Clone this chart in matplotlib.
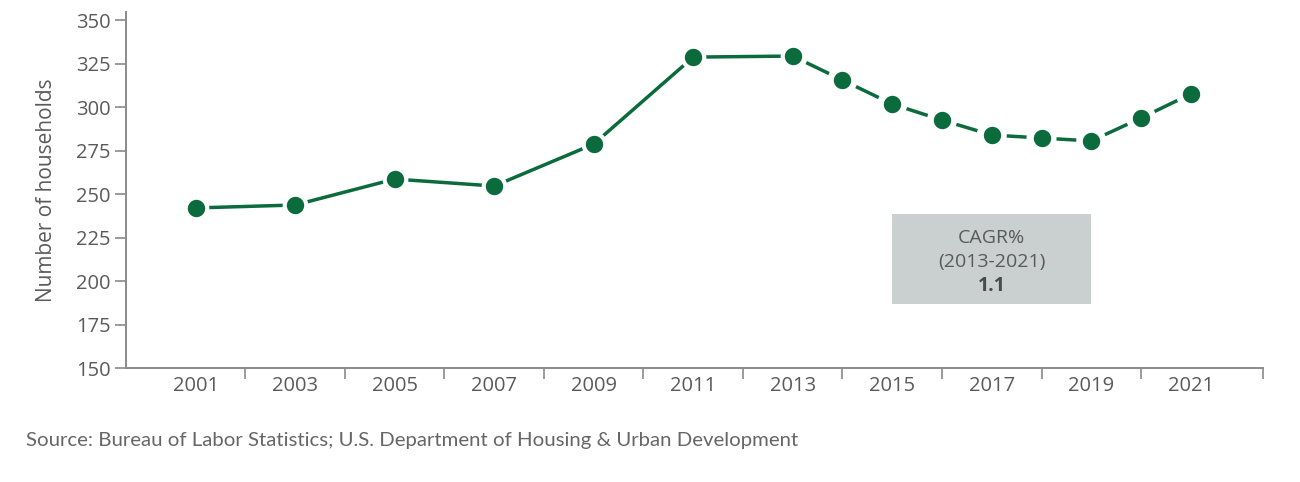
import numpy as np
import matplotlib.pyplot as plt

plt.rcParams['font.family'] = ['Open Sans', 'DejaVu Sans']

years = [2001, 2003, 2005, 2007, 2009, 2011, 2013, 2014, 2015, 2016, 2017, 2018, 2019, 2020, 2021]
households = [242, 243.7, 258.6, 254.6, 278.7, 328.7, 329.3, 315.5, 301.7, 292.5, 283.9, 282.2, 280.5, 293.7, 307.5]
label_years = [2001, 2003, 2005, 2007, 2009, 2011, 2013, 2015, 2017, 2019, 2021]
y_ticks = [150, 175, 200, 225, 250, 275, 300, 325, 350]
source = "Source: Bureau of Labor Statistics; U.S. Department of Housing & Urban Development"

green = "#0b6b3c"
grey = "#5a5a5a"
axis_grey = "#8a8a8a"

fig = plt.figure(figsize=(13, 4.82), dpi=100)
ax = fig.add_axes([0.0969, 0.2365, 0.8746, 0.7385])

x_left, x_right = 1999.6, 2022.45
ax.set_xlim(x_left, x_right)
ax.set_ylim(150, 354.6)

split = years.index(2013)
ax.plot(years[:split + 1], households[:split + 1], color=green, lw=2.5, solid_capstyle="butt", zorder=2)

# dashed part: one dash per segment, centred between the markers
to_px = ax.transData
to_data = ax.transData.inverted()
gap = 15  # px from marker centre to dash end
for i in range(split, len(years) - 1):
    p0 = to_px.transform((years[i], households[i]))
    p1 = to_px.transform((years[i + 1], households[i + 1]))
    v = p1 - p0
    u = v / np.hypot(*v)
    a = to_data.transform(p0 + u * gap)
    b = to_data.transform(p1 - u * gap)
    ax.plot([a[0], b[0]], [a[1], b[1]], color=green, lw=2.5, solid_capstyle="butt", zorder=2)

ax.plot(years, households, "o", color=green, ms=15.5, mec="white", mew=3, zorder=3)

ax.set_xticks(list(range(2002, 2021, 2)) + [x_right])
ax.set_xticklabels([])
ax.set_xticks(label_years, minor=True)
ax.set_xticklabels([str(y) for y in label_years], minor=True)
ax.tick_params(axis="x", which="major", length=8, width=1.2, color=axis_grey, direction="out")
ax.tick_params(axis="x", which="minor", length=0, pad=6, labelsize=14.5, labelcolor=grey)

ax.set_yticks(y_ticks)
ax.tick_params(axis="y", length=8, width=1.2, color=axis_grey, labelsize=14.5, labelcolor=grey, pad=3)
ax.set_ylabel("Number of households", fontsize=15, color=grey, labelpad=14)

for s in ["top", "right"]:
    ax.spines[s].set_visible(False)
for s in ["left", "bottom"]:
    ax.spines[s].set_color(axis_grey)
    ax.spines[s].set_linewidth(1.4)

# CAGR box
ax.add_patch(plt.Rectangle((2015.0, 186.8), 4.0, 51.7, facecolor="#c9d0cf", edgecolor="none", zorder=1))
ax.text(2017, 225, "CAGR%", ha="center", va="center", fontsize=14, color=grey)
ax.text(2017, 211, "(2013-2021)", ha="center", va="center", fontsize=14, color=grey)
ax.text(2017, 197, "1.1", ha="center", va="center", fontsize=14, color="#4a4a4a", fontweight="bold")

fig.text(0.02, 0.075, source, fontsize=14.7, color="#666666", family=["Lato", "DejaVu Sans"])

fig.savefig("out.png", dpi=100)
